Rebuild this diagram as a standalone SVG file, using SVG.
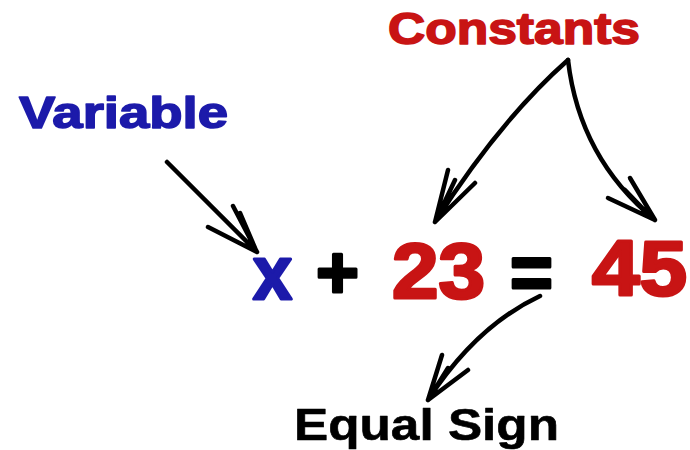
<svg xmlns="http://www.w3.org/2000/svg" width="690" height="450" viewBox="0 0 690 450">
<style>
text{font-family:"Liberation Sans",Arial,sans-serif;font-weight:bold;stroke-linejoin:round}
.red{fill:#c81414;stroke:#c81414}
.blue{fill:#1c1aaa;stroke:#1c1aaa}
.blk{fill:#000;stroke:#000}
.lbl{stroke-width:1.6}
.lbl2{stroke-width:0.6}
.eq{stroke-width:3}
.arr{fill:none;stroke:#000;stroke-width:4.5;stroke-linecap:round;stroke-linejoin:round}
</style>
<rect width="690" height="450" fill="#fff"/>
<g id="constants"><text class="red lbl" x="388" y="44" font-size="44" textLength="252" lengthAdjust="spacingAndGlyphs">Constants</text></g>
<g id="variable"><text class="blue lbl" x="19" y="128" font-size="45" textLength="209" lengthAdjust="spacingAndGlyphs">Variable</text></g>
<g id="equation">
<text class="blue eq" x="253" y="299" font-size="76" textLength="39" lengthAdjust="spacingAndGlyphs">x</text>
<text class="blk eq" x="316" y="298" font-size="74" textLength="43" lengthAdjust="spacingAndGlyphs">+</text>
<text class="red eq" x="392" y="298" font-size="78" textLength="93" lengthAdjust="spacingAndGlyphs">23</text>
<text class="blk eq" x="510" y="299" font-size="78" textLength="43" lengthAdjust="spacingAndGlyphs">=</text>
<text class="red eq" x="592" y="295" font-size="77" textLength="95" lengthAdjust="spacingAndGlyphs">45</text>
</g>
<g id="equal-sign"><text class="blk lbl2" x="294" y="440" font-size="45" textLength="265" lengthAdjust="spacingAndGlyphs">Equal Sign</text></g>
<g id="connectors">
<path class="arr" d="M167,162 L257,252 M233,206 L257,252 M208,227 L257,252 M240,213 L255,248"/>
<path class="arr" d="M568,60 Q500,120 435,222 M448,170 L435,222 M475,183 L435,222 M455,180 L437,218"/>
<path class="arr" d="M568,60 C575,120 600,175 655,220 M630,178 L655,220 M608,198 L655,220 M625,190 L652,218"/>
<path class="arr" d="M540,296 Q476,326 428,400 M442,355 L428,400 M468,370 L428,400 M448,368 L430,397"/>
</g>
</svg>
